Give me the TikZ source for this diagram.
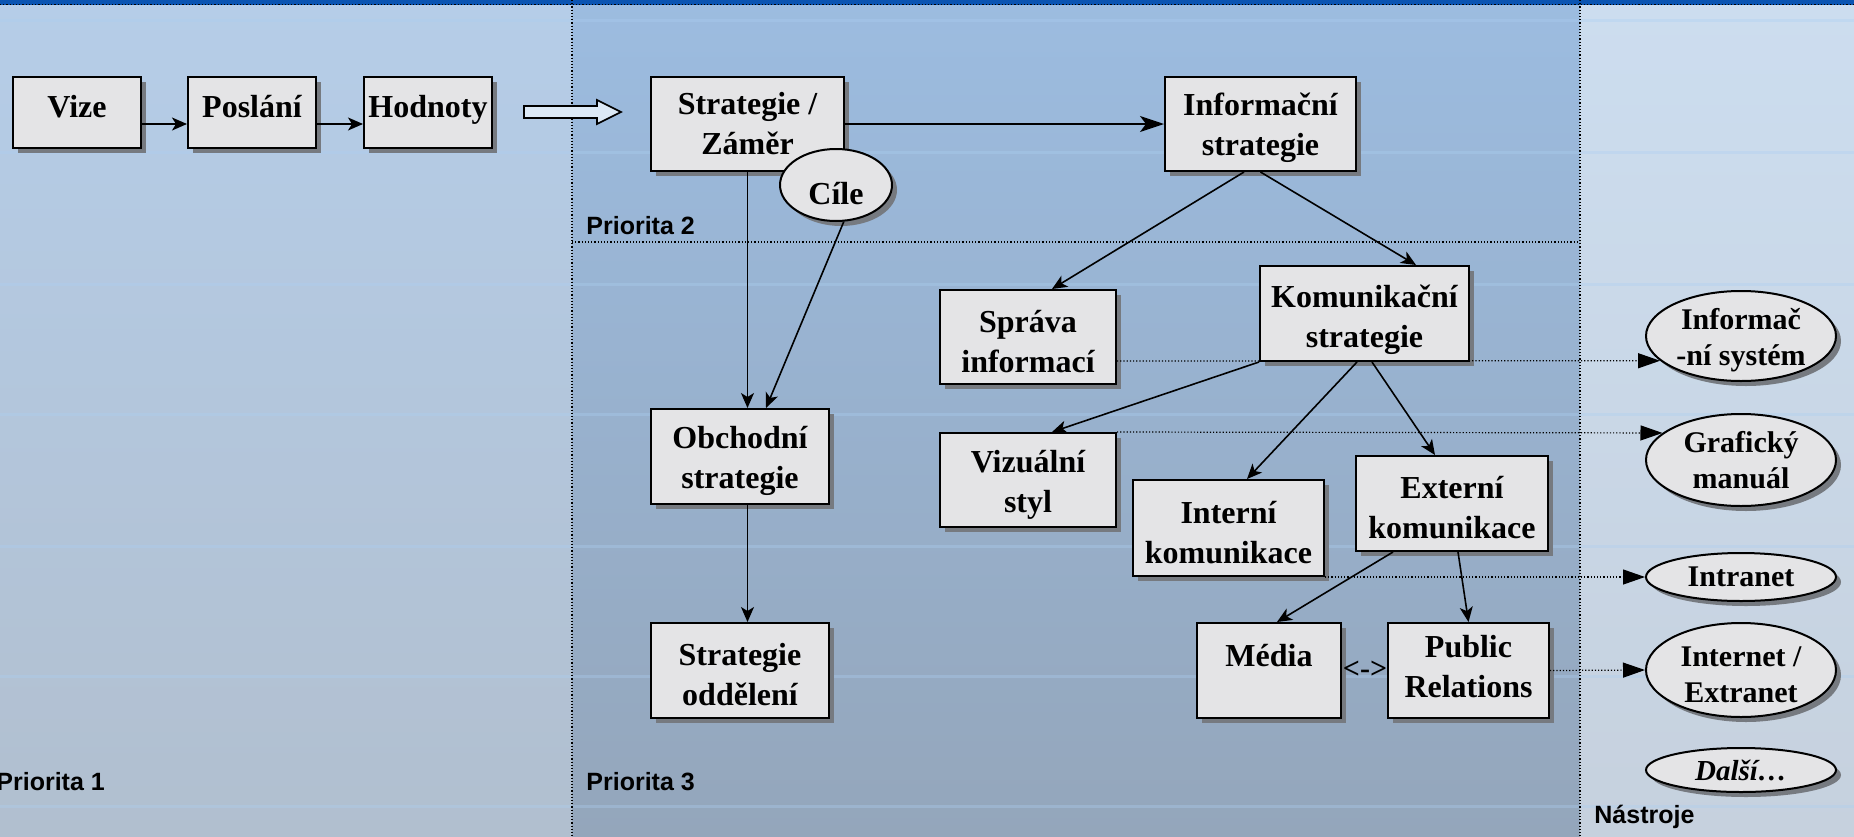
\documentclass[tikz,border=0pt]{standalone}
\usepackage{fontspec}
\setmainfont{Liberation Serif}
\setsansfont{Liberation Sans}
\usetikzlibrary{arrows.meta,shapes.geometric,shadows}
\definecolor{box_gray}{RGB}{228, 228, 230}
\definecolor{shadow_gray}{RGB}{118, 122, 128}
\definecolor{bar_blue}{RGB}{10, 84, 178}
\definecolor{p1_top}{RGB}{181, 205, 232}
\definecolor{p1_bot}{RGB}{177, 191, 207}
\definecolor{p2_top}{RGB}{156, 188, 224}
\definecolor{p2_bot}{RGB}{148, 166, 187}
\definecolor{tl_top}{RGB}{204, 221, 239}
\definecolor{tl_bot}{RGB}{198, 209, 222}
\definecolor{band_blue}{RGB}{172, 207, 242}
\definecolor{arrow_fill}{RGB}{220, 233, 246}
\tikzstyle{bx}=[rectangle,fill=box_gray,draw=black,line width=1pt,align=center,
  inner sep=2pt,font=\fontsize{16}{20}\selectfont\bfseries,
  general shadow={fill=shadow_gray,shadow xshift=2.5pt,shadow yshift=-2.5pt}]
\tikzstyle{el}=[ellipse,fill=box_gray,draw=black,line width=1pt,align=center,
  inner sep=0pt,font=\fontsize{15}{18}\selectfont\bfseries,
  general shadow={fill=shadow_gray,shadow xshift=2.5pt,shadow yshift=-2.5pt}]
\tikzstyle{one}=[text height=11pt,text depth=6.5pt]
\tikzstyle{low}=[text height=35.5pt]
\tikzstyle{elow}=[inner ysep=-6pt]
\tikzstyle{lbl}=[anchor=base west,inner sep=0pt,
  font=\sffamily\bfseries\fontsize{12.5}{15}\selectfont]
\tikzstyle{arr}=[-{Stealth[length=7.5pt,width=6.5pt,inset=2pt]},line width=0.8pt]
\tikzstyle{tool}=[densely dotted,line width=0.6pt,-{Triangle[length=11pt,width=7.5pt]}]
\tikzstyle{divider}=[densely dotted,line width=0.6pt]
\tikzstyle{none}=[]

\begin{document}
\begin{tikzpicture}[x=0.5pt,y=-0.5pt]
            \useasboundingbox (0, 0) rectangle (1854, 836);
            \shade [top color=p1_top, bottom color=p1_bot] (0, 0) rectangle (572, 836);
            \shade [top color=p2_top, bottom color=p2_bot] (572, 0) rectangle (1580, 836);
            \shade [top color=tl_top, bottom color=tl_bot] (1580, 0) rectangle (1854, 836);
            \foreach \y in {20,152,284,414,546,676,806}
                \draw [band_blue, opacity=0.35, line width=1.5pt] (0, \y) -- (1854, \y);
            \fill [bar_blue] (0, 0) rectangle (1854, 5);
            \draw [style=divider] (0, 4.5) -- (1854, 4.5);
            \draw [style=divider] (572, 0) -- (572, 836);
            \draw [style=divider] (1580, 0) -- (1580, 836);
            \draw [style=divider] (572, 242) -- (1580, 242);

            \node [style=lbl] (21) at (-4, 790) {Priorita 1};
            \node [style=lbl] (22) at (586, 234) {Priorita 2};
            \node [style=lbl] (23) at (586, 790) {Priorita 3};
            \node [style=lbl] (24) at (1594, 823) {Nástroje};

            \node [style=bx, style=one, minimum width=64pt, minimum height=35.5pt] (0) at (77, 112.5) {Vize};
            \node [style=bx, style=one, minimum width=64pt, minimum height=35.5pt] (1) at (252, 112.5) {Poslání};
            \node [style=bx, style=one, minimum width=64pt, minimum height=35.5pt] (2) at (428, 112.5) {Hodnoty};
            \node [style=bx, minimum width=96.5pt, minimum height=47pt] (3) at (747.5, 124) {Strategie /\\Záměr};
            \node [style=el, minimum width=56pt, minimum height=36pt, text height=19pt, text depth=0pt,
                font=\fontsize{16}{20}\selectfont\bfseries] (4) at (836, 185) {Cíle};
            \node [style=bx, style=low, minimum width=95.5pt, minimum height=47pt] (5) at (1260.5, 124) {Informační\\strategie};
            \node [style=bx, style=low, minimum width=88pt, minimum height=47pt] (6) at (1028, 337) {Správa\\informací};
            \node [style=bx, style=low, text height=38pt, minimum width=104.5pt, minimum height=47.5pt] (7) at (1364.5, 313.5) {Komunikační\\strategie};
            \node [style=bx, style=low, minimum width=88pt, minimum height=47pt] (8) at (1028, 480) {Vizuální\\styl};
            \node [style=bx, style=low, minimum width=95.5pt, minimum height=48pt] (9) at (1228.5, 528) {Interní\\komunikace};
            \node [style=bx, style=low, minimum width=96pt, minimum height=47.5pt] (10) at (1452, 503.5) {Externí\\komunikace};
            \node [style=bx, style=low, minimum width=72pt, minimum height=47.5pt] (11) at (1269, 670.5) {Média\\~};
            \node [style=bx, text height=27pt, minimum width=80.5pt, minimum height=47.5pt] (12) at (1468.5, 670.5) {Public\\Relations};
            \node [style=bx, style=low, minimum width=89pt, minimum height=47.5pt] (13) at (740, 456.5) {Obchodní\\strategie};
            \node [style=bx, style=low, minimum width=89pt, minimum height=47.5pt] (14) at (740, 670.5) {Strategie\\oddělení};
            \node [style=el, style=elow, text height=33.2pt, text depth=3.3pt, minimum width=95pt, minimum height=45pt] (15) at (1741, 336) {Informač\\-ní systém};
            \node [style=el, minimum width=95pt, minimum height=46pt] (16) at (1741, 460) {Grafický\\manuál};
            \node [style=el, minimum width=95pt, minimum height=24pt] (17) at (1741, 577) {Intranet};
            \node [style=el, style=elow, text height=32.4pt, text depth=0pt, minimum width=95pt, minimum height=47pt] (18) at (1741, 670) {Internet /\\Extranet};
            \node [style=el, minimum width=95pt, minimum height=22pt, font=\fontsize{14.5}{17.5}\selectfont\bfseries\itshape] (19) at (1741, 770) {Další…};
            \node [font=\fontsize{15}{18}\selectfont\bfseries, inner sep=0pt] (20) at (1365, 670) {<->};

            \draw [fill=arrow_fill, line width=0.8pt] (524, 106) -- (597, 106) -- (597, 100) -- (621, 112)
                -- (597, 124) -- (597, 118) -- (524, 118) -- cycle;

            \draw [style=arr] ([yshift=-5.75pt]0.east) to ([yshift=-5.75pt]1.west);
            \draw [style=arr] ([yshift=-5.75pt]1.east) to ([yshift=-5.75pt]2.west);
            \draw [style=arr, -{Stealth[length=12pt,width=8pt,inset=3pt]}] (3) to (5);
            \draw [style=arr] (3.south) to (3.south |- 13.north);
            \draw [style=arr] (4.-78) to ([xshift=13pt]13.north);
            \draw [style=arr] (3.south |- 13.south) to (3.south |- 14.north);
            \draw [style=arr] ([xshift=-8.25pt]5.south) to ([xshift=12pt]6.north);
            \draw [style=arr] (5.south) to ([xshift=25.75pt]7.north);
            \draw [style=arr] (7.south west) to ([xshift=12pt]8.north);
            \draw [style=arr] ([xshift=-3.75pt]7.south) to ([xshift=9.25pt]9.north);
            \draw [style=arr] ([xshift=3.75pt]7.south) to ([xshift=-8.5pt]10.north);
            \draw [style=arr] ([xshift=-29.5pt]10.south) to ([xshift=4pt]11.north);
            \draw [style=arr] ([xshift=3pt]10.south) to (12.north);

            \draw [style=tool] ([yshift=-12pt]6.east) to (15.197.2);
            \draw [style=tool] (8.north east) to (16.161);
            \draw [style=tool] (9.south east) to (17.west);
            \draw [style=tool] (12.east) to (18.west);
\end{tikzpicture}
\end{document}
